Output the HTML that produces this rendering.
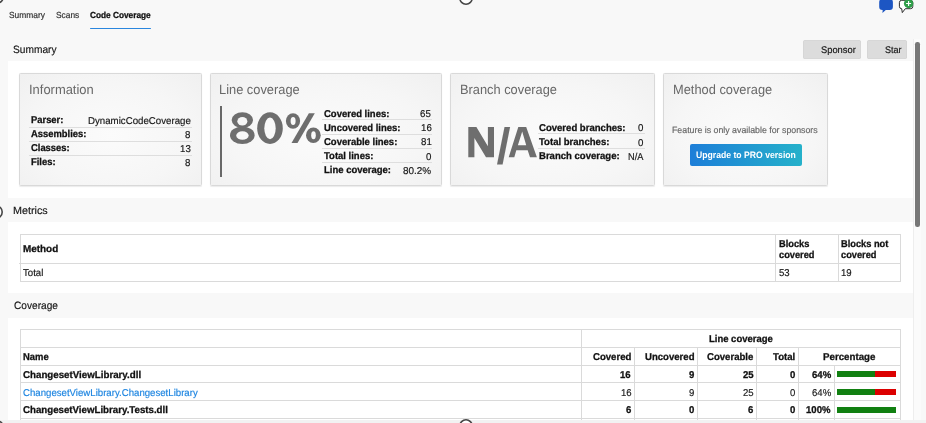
<!DOCTYPE html>
<html><head><meta charset="utf-8"><style>
html,body{margin:0;padding:0;}
body{width:926px;height:423px;overflow:hidden;position:relative;background:#f8f8f8;font-family:"Liberation Sans",sans-serif;text-rendering:geometricPrecision;}
body>div{position:absolute;}
.t{white-space:nowrap;line-height:1;transform-origin:0 0;}
</style></head><body>
<div class="t" style="left:8.60px;top:11.43px;font-size:8.8px;color:#2c2c2c;transform:scaleX(0.9542);-webkit-text-stroke:0.16px #2c2c2c;">Summary</div>
<div class="t" style="left:55.80px;top:11.43px;font-size:8.8px;color:#2c2c2c;transform:scaleX(0.9492);-webkit-text-stroke:0.16px #2c2c2c;">Scans</div>
<div class="t" style="left:89.71px;top:10.89px;font-size:8.8px;color:#111111;font-weight:bold;transform:scaleX(0.9401);-webkit-text-stroke:0.28px #111111;">Code Coverage</div>
<div style="left:89.50px;top:27.60px;width:61.30px;height:1.40px;background:#2a86de;border-radius:1px;"></div>
<div class="t" style="left:13.48px;top:45.23px;font-size:10.6px;color:#151515;transform:scaleX(0.9602);-webkit-text-stroke:0.16px #151515;">Summary</div>
<div style="left:803.30px;top:40.00px;width:57.70px;height:18.70px;background:#dcdcdc;border-radius:2.5px;box-shadow:inset 0 0 0 0.6px #d2d2d2;"></div>
<div class="t" style="left:821.15px;top:46.08px;font-size:9.7px;color:#151515;transform:scaleX(0.9630);-webkit-text-stroke:0.16px #151515;">Sponsor</div>
<div style="left:867.00px;top:40.00px;width:39.80px;height:18.70px;background:#dcdcdc;border-radius:2.5px;box-shadow:inset 0 0 0 0.6px #d2d2d2;"></div>
<div class="t" style="left:884.77px;top:46.08px;font-size:9.7px;color:#151515;transform:scaleX(0.9335);-webkit-text-stroke:0.16px #151515;">Star</div>
<div style="left:8.00px;top:61.00px;width:905.00px;height:137.10px;background:#fff;"></div>
<div style="left:19.40px;top:73.00px;width:182.40px;height:113.30px;box-sizing:border-box;border-radius:1.5px;border:1px solid #d9d9d9;background:radial-gradient(ellipse at 50% 55%,#fbfbfb 0%,#f6f6f6 60%,#f0f0f0 100%);box-shadow:0 0.5px 1px rgba(0,0,0,0.08);"></div>
<div style="left:210.00px;top:73.00px;width:231.60px;height:113.30px;box-sizing:border-box;border-radius:1.5px;border:1px solid #d9d9d9;background:radial-gradient(ellipse at 50% 55%,#fbfbfb 0%,#f6f6f6 60%,#f0f0f0 100%);box-shadow:0 0.5px 1px rgba(0,0,0,0.08);"></div>
<div style="left:450.00px;top:73.00px;width:205.20px;height:113.30px;box-sizing:border-box;border-radius:1.5px;border:1px solid #d9d9d9;background:radial-gradient(ellipse at 50% 55%,#fbfbfb 0%,#f6f6f6 60%,#f0f0f0 100%);box-shadow:0 0.5px 1px rgba(0,0,0,0.08);"></div>
<div style="left:663.30px;top:73.00px;width:164.40px;height:113.20px;box-sizing:border-box;border-radius:1.5px;border:1px solid #d9d9d9;background:radial-gradient(ellipse at 50% 55%,#fbfbfb 0%,#f6f6f6 60%,#f0f0f0 100%);box-shadow:0 0.5px 1px rgba(0,0,0,0.08);"></div>
<div class="t" style="left:29.16px;top:83.42px;font-size:13.3px;color:#686868;transform:scaleX(0.9731);">Information</div>
<div class="t" style="left:30.63px;top:116.36px;font-size:9.9px;color:#111111;font-weight:bold;transform:scaleX(0.9513);-webkit-text-stroke:0.28px #111111;">Parser:</div>
<div class="t" style="left:88.25px;top:116.87px;font-size:9.9px;color:#151515;transform:scaleX(0.9806);-webkit-text-stroke:0.16px #151515;">DynamicCodeCoverage</div>
<div style="left:29.00px;top:126.80px;width:163.00px;height:1.00px;background:#dedede;"></div>
<div class="t" style="left:30.63px;top:130.36px;font-size:9.9px;color:#111111;font-weight:bold;transform:scaleX(0.9513);-webkit-text-stroke:0.28px #111111;">Assemblies:</div>
<div class="t" style="left:185.49px;top:130.87px;font-size:9.9px;color:#151515;transform:scaleX(0.9806);-webkit-text-stroke:0.16px #151515;">8</div>
<div style="left:29.00px;top:140.80px;width:163.00px;height:1.00px;background:#dedede;"></div>
<div class="t" style="left:30.63px;top:144.36px;font-size:9.9px;color:#111111;font-weight:bold;transform:scaleX(0.9513);-webkit-text-stroke:0.28px #111111;">Classes:</div>
<div class="t" style="left:180.18px;top:144.87px;font-size:9.9px;color:#151515;transform:scaleX(0.9806);-webkit-text-stroke:0.16px #151515;">13</div>
<div style="left:29.00px;top:154.80px;width:163.00px;height:1.00px;background:#dedede;"></div>
<div class="t" style="left:30.63px;top:158.36px;font-size:9.9px;color:#111111;font-weight:bold;transform:scaleX(0.9513);-webkit-text-stroke:0.28px #111111;">Files:</div>
<div class="t" style="left:185.49px;top:158.87px;font-size:9.9px;color:#151515;transform:scaleX(0.9806);-webkit-text-stroke:0.16px #151515;">8</div>
<div class="t" style="left:219.40px;top:83.42px;font-size:13.3px;color:#686868;transform:scaleX(0.9658);">Line coverage</div>
<div style="left:220.00px;top:106.00px;width:2.00px;height:70.60px;background:#686868;"></div>
<svg style="position:absolute;left:0;top:0" width="926" height="423"><defs><mask id="m80" maskUnits="userSpaceOnUse" x="0" y="0" width="926" height="423"><rect x="0" y="0" width="926" height="423" fill="#fff"/><g fill="#000"><ellipse cx="242.35" cy="121.2" rx="5.0" ry="4.3"/><ellipse cx="242.45" cy="135.5" rx="6.2" ry="4.3"/><ellipse cx="270" cy="128.35" rx="5.7" ry="10.9"/><ellipse cx="293.1" cy="121" rx="2.5" ry="4.1"/><ellipse cx="313.5" cy="135.2" rx="2.3" ry="4.0"/></g></mask></defs><g fill="#6e6e6e" mask="url(#m80)"><ellipse cx="242.35" cy="120.1" rx="10.7" ry="7.9"/><ellipse cx="242.3" cy="135.3" rx="12.3" ry="8.8"/><ellipse cx="270" cy="128.15" rx="12.8" ry="15.85"/><ellipse cx="293" cy="121" rx="7.1" ry="7.8"/><ellipse cx="313.35" cy="135.2" rx="7.35" ry="7.8"/><path d="M308.9 113.2 L314.8 113.2 L297.5 143.1 L291.5 143.1 Z"/></g></svg>
<div class="t" style="left:323.86px;top:109.56px;font-size:9.9px;color:#111111;font-weight:bold;transform:scaleX(0.9608);-webkit-text-stroke:0.28px #111111;">Covered lines:</div>
<div class="t" style="left:420.48px;top:110.07px;font-size:9.9px;color:#151515;transform:scaleX(0.9806);-webkit-text-stroke:0.16px #151515;">65</div>
<div style="left:322.40px;top:119.30px;width:109.80px;height:1.00px;background:#dedede;"></div>
<div class="t" style="left:323.86px;top:123.71px;font-size:9.9px;color:#111111;font-weight:bold;transform:scaleX(0.9608);-webkit-text-stroke:0.28px #111111;">Uncovered lines:</div>
<div class="t" style="left:420.51px;top:124.22px;font-size:9.9px;color:#151515;transform:scaleX(0.9806);-webkit-text-stroke:0.16px #151515;">16</div>
<div style="left:322.40px;top:133.50px;width:109.80px;height:1.00px;background:#dedede;"></div>
<div class="t" style="left:323.86px;top:137.86px;font-size:9.9px;color:#111111;font-weight:bold;transform:scaleX(0.9608);-webkit-text-stroke:0.28px #111111;">Coverable lines:</div>
<div class="t" style="left:420.63px;top:138.37px;font-size:9.9px;color:#151515;transform:scaleX(0.9806);-webkit-text-stroke:0.16px #151515;">81</div>
<div style="left:322.40px;top:147.70px;width:109.80px;height:1.00px;background:#dedede;"></div>
<div class="t" style="left:323.86px;top:152.01px;font-size:9.9px;color:#111111;font-weight:bold;transform:scaleX(0.9608);-webkit-text-stroke:0.28px #111111;">Total lines:</div>
<div class="t" style="left:425.70px;top:152.52px;font-size:9.9px;color:#151515;transform:scaleX(0.9806);-webkit-text-stroke:0.16px #151515;">0</div>
<div style="left:322.40px;top:161.90px;width:109.80px;height:1.00px;background:#dedede;"></div>
<div class="t" style="left:323.86px;top:166.16px;font-size:9.9px;color:#111111;font-weight:bold;transform:scaleX(0.9608);-webkit-text-stroke:0.28px #111111;">Line coverage:</div>
<div class="t" style="left:402.71px;top:166.67px;font-size:9.9px;color:#151515;transform:scaleX(1.0052);-webkit-text-stroke:0.16px #151515;">80.2%</div>
<div class="t" style="left:459.80px;top:83.42px;font-size:13.3px;color:#686868;transform:scaleX(0.9646);">Branch coverage</div>
<svg style="position:absolute;left:0;top:0" width="926" height="423"><g fill="#6e6e6e"><path d="M468.3 157.2 L468.3 126.9 L476.4 126.9 L487.9 146.3 L487.9 126.9 L494 126.9 L494 157.2 L486 157.2 L474.4 137.9 L474.4 157.2 Z"/><path d="M504.5 126.9 L510.1 126.9 L502.6 164.5 L497 164.5 Z"/><path fill-rule="evenodd" d="M508.7 157.2 L518.3 126.9 L526.2 126.9 L536.9 157.2 L530 157.2 L527.7 150.2 L516.3 150.2 L514.3 157.2 Z M517.9 145.2 L522.2 131.6 L526.2 145.2 Z"/></g></svg>
<div class="t" style="left:539.05px;top:123.96px;font-size:9.9px;color:#111111;font-weight:bold;transform:scaleX(0.9672);-webkit-text-stroke:0.28px #111111;">Covered branches:</div>
<div class="t" style="left:638.20px;top:124.47px;font-size:9.9px;color:#151515;transform:scaleX(0.9806);-webkit-text-stroke:0.16px #151515;">0</div>
<div style="left:538.00px;top:133.10px;width:106.80px;height:1.00px;background:#dedede;"></div>
<div class="t" style="left:539.05px;top:138.16px;font-size:9.9px;color:#111111;font-weight:bold;transform:scaleX(0.9672);-webkit-text-stroke:0.28px #111111;">Total branches:</div>
<div class="t" style="left:638.20px;top:138.67px;font-size:9.9px;color:#151515;transform:scaleX(0.9806);-webkit-text-stroke:0.16px #151515;">0</div>
<div style="left:538.00px;top:147.70px;width:106.80px;height:1.00px;background:#dedede;"></div>
<div class="t" style="left:539.05px;top:152.36px;font-size:9.9px;color:#111111;font-weight:bold;transform:scaleX(0.9672);-webkit-text-stroke:0.28px #111111;">Branch coverage:</div>
<div class="t" style="left:628.02px;top:152.87px;font-size:9.9px;color:#151515;transform:scaleX(0.9311);-webkit-text-stroke:0.16px #151515;">N/A</div>
<div class="t" style="left:672.80px;top:83.42px;font-size:13.3px;color:#686868;transform:scaleX(0.9653);">Method coverage</div>
<div class="t" style="left:672.46px;top:126.48px;font-size:9.0px;color:#666;transform:scaleX(0.9772);-webkit-text-stroke:0.16px #666;">Feature is only available for sponsors</div>
<div style="left:689.80px;top:144.00px;width:111.80px;height:21.70px;background:linear-gradient(90deg,#1d7ed8,#25b1ca);border-radius:2px;"></div>
<div class="t" style="left:695.54px;top:151.30px;font-size:9.3px;color:#fff;font-weight:bold;transform:scaleX(0.9295);">Upgrade to PRO version</div>
<div class="t" style="left:13.13px;top:206.13px;font-size:10.6px;color:#151515;transform:scaleX(1.0154);-webkit-text-stroke:0.16px #151515;">Metrics</div>
<div style="left:8.00px;top:222.30px;width:905.00px;height:71.00px;background:#fff;"></div>
<div style="left:19.80px;top:234.00px;width:880.90px;height:47.60px;box-sizing:border-box;border:1px solid #dadada;"></div>
<div style="left:19.40px;top:263.00px;width:881.30px;height:1.00px;background:#dadada;"></div>
<div style="left:775.20px;top:234.00px;width:1.00px;height:47.60px;background:#dadada;"></div>
<div style="left:838.20px;top:234.00px;width:1.00px;height:47.60px;background:#dadada;"></div>
<div class="t" style="left:22.70px;top:244.76px;font-size:9.9px;color:#111111;font-weight:bold;transform:scaleX(1.0025);-webkit-text-stroke:0.28px #111111;">Method</div>
<div class="t" style="left:841.24px;top:239.86px;font-size:9.9px;color:#111111;font-weight:bold;transform:scaleX(0.9379);-webkit-text-stroke:0.28px #111111;">Blocks not</div>
<div class="t" style="left:778.74px;top:239.86px;font-size:9.9px;color:#111111;font-weight:bold;transform:scaleX(0.9379);-webkit-text-stroke:0.28px #111111;">Blocks</div>
<div class="t" style="left:778.74px;top:250.76px;font-size:9.9px;color:#111111;font-weight:bold;transform:scaleX(0.9379);-webkit-text-stroke:0.28px #111111;">covered</div>
<div class="t" style="left:841.24px;top:250.76px;font-size:9.9px;color:#111111;font-weight:bold;transform:scaleX(0.9379);-webkit-text-stroke:0.28px #111111;">covered</div>
<div class="t" style="left:22.94px;top:268.87px;font-size:9.9px;color:#151515;transform:scaleX(0.9718);-webkit-text-stroke:0.16px #151515;">Total</div>
<div class="t" style="left:778.74px;top:268.87px;font-size:9.9px;color:#151515;transform:scaleX(0.9718);-webkit-text-stroke:0.16px #151515;">53</div>
<div class="t" style="left:841.24px;top:268.87px;font-size:9.9px;color:#151515;transform:scaleX(0.9718);-webkit-text-stroke:0.16px #151515;">19</div>
<div class="t" style="left:13.59px;top:301.33px;font-size:10.6px;color:#151515;transform:scaleX(0.9562);-webkit-text-stroke:0.16px #151515;">Coverage</div>
<div style="left:8.00px;top:317.50px;width:905.00px;height:102.10px;background:#fff;"></div>
<div style="left:19.80px;top:329.00px;width:1.00px;height:91.00px;background:#dadada;"></div>
<div style="left:900.00px;top:329.00px;width:1.00px;height:91.00px;background:#dadada;"></div>
<div style="left:19.80px;top:329.00px;width:880.90px;height:1.00px;background:#dadada;"></div>
<div style="left:19.80px;top:346.80px;width:880.90px;height:1.00px;background:#dadada;"></div>
<div style="left:19.80px;top:364.60px;width:880.90px;height:1.00px;background:#dadada;"></div>
<div style="left:19.80px;top:382.10px;width:880.90px;height:1.00px;background:#dadada;"></div>
<div style="left:19.80px;top:399.90px;width:880.90px;height:1.00px;background:#dadada;"></div>
<div style="left:19.80px;top:417.60px;width:880.90px;height:1.00px;background:#dadada;"></div>
<div style="left:581.20px;top:329.00px;width:1.00px;height:91.00px;background:#dadada;"></div>
<div style="left:633.90px;top:347.30px;width:1.00px;height:91.00px;background:#dadada;"></div>
<div style="left:697.10px;top:347.30px;width:1.00px;height:91.00px;background:#dadada;"></div>
<div style="left:756.20px;top:347.30px;width:1.00px;height:91.00px;background:#dadada;"></div>
<div style="left:798.10px;top:347.30px;width:1.00px;height:91.00px;background:#dadada;"></div>
<div style="left:833.60px;top:365.10px;width:1.00px;height:60.00px;background:#dadada;"></div>
<div class="t" style="left:644.92px;top:353.06px;font-size:9.9px;color:#111111;font-weight:bold;transform:scaleX(0.9698);-webkit-text-stroke:0.28px #111111;">Uncovered</div>
<div class="t" style="left:708.73px;top:335.36px;font-size:9.9px;color:#111111;font-weight:bold;transform:scaleX(0.9599);-webkit-text-stroke:0.28px #111111;">Line coverage</div>
<div class="t" style="left:22.83px;top:353.16px;font-size:9.9px;color:#111111;font-weight:bold;transform:scaleX(0.9528);-webkit-text-stroke:0.28px #111111;">Name</div>
<div class="t" style="left:593.08px;top:353.16px;font-size:9.9px;color:#111111;font-weight:bold;transform:scaleX(0.9698);-webkit-text-stroke:0.28px #111111;">Covered</div>
<div class="t" style="left:707.43px;top:353.16px;font-size:9.9px;color:#111111;font-weight:bold;transform:scaleX(0.9698);-webkit-text-stroke:0.28px #111111;">Coverable</div>
<div class="t" style="left:773.24px;top:353.16px;font-size:9.9px;color:#111111;font-weight:bold;transform:scaleX(0.9698);-webkit-text-stroke:0.28px #111111;">Total</div>
<div class="t" style="left:823.31px;top:353.36px;font-size:9.9px;color:#111111;font-weight:bold;transform:scaleX(0.9852);-webkit-text-stroke:0.28px #111111;">Percentage</div>
<div class="t" style="left:22.95px;top:370.86px;font-size:9.9px;color:#111111;font-weight:bold;transform:scaleX(0.9859);-webkit-text-stroke:0.28px #111111;">ChangesetViewLibrary.dll</div>
<div class="t" style="left:620.39px;top:370.86px;font-size:9.9px;color:#111111;font-weight:bold;transform:scaleX(0.9698);-webkit-text-stroke:0.28px #111111;">16</div>
<div class="t" style="left:688.79px;top:370.86px;font-size:9.9px;color:#111111;font-weight:bold;transform:scaleX(0.9698);-webkit-text-stroke:0.28px #111111;">9</div>
<div class="t" style="left:742.74px;top:370.86px;font-size:9.9px;color:#111111;font-weight:bold;transform:scaleX(0.9698);-webkit-text-stroke:0.28px #111111;">25</div>
<div class="t" style="left:789.72px;top:370.86px;font-size:9.9px;color:#111111;font-weight:bold;transform:scaleX(0.9698);-webkit-text-stroke:0.28px #111111;">0</div>
<div class="t" style="left:811.55px;top:370.86px;font-size:9.9px;color:#111111;font-weight:bold;transform:scaleX(0.9698);-webkit-text-stroke:0.28px #111111;">64%</div>
<div style="left:836.80px;top:370.90px;width:37.89px;height:5.90px;background:#118011;"></div>
<div style="left:874.69px;top:370.90px;width:21.31px;height:5.90px;background:#dc0000;"></div>
<div class="t" style="left:22.95px;top:389.17px;font-size:9.9px;color:#1c84e0;transform:scaleX(0.9755);-webkit-text-stroke:0.16px #1c84e0;">ChangesetViewLibrary.ChangesetLibrary</div>
<div class="t" style="left:620.83px;top:389.17px;font-size:9.9px;color:#1a1a1a;transform:scaleX(0.9698);-webkit-text-stroke:0.16px #1a1a1a;">16</div>
<div class="t" style="left:688.92px;top:389.17px;font-size:9.9px;color:#1a1a1a;transform:scaleX(0.9698);-webkit-text-stroke:0.16px #1a1a1a;">9</div>
<div class="t" style="left:743.19px;top:389.17px;font-size:9.9px;color:#1a1a1a;transform:scaleX(0.9698);-webkit-text-stroke:0.16px #1a1a1a;">25</div>
<div class="t" style="left:789.76px;top:389.17px;font-size:9.9px;color:#1a1a1a;transform:scaleX(0.9698);-webkit-text-stroke:0.16px #1a1a1a;">0</div>
<div class="t" style="left:811.68px;top:389.17px;font-size:9.9px;color:#1a1a1a;transform:scaleX(0.9698);-webkit-text-stroke:0.16px #1a1a1a;">64%</div>
<div style="left:836.80px;top:389.10px;width:37.89px;height:5.90px;background:#118011;"></div>
<div style="left:874.69px;top:389.10px;width:21.31px;height:5.90px;background:#dc0000;"></div>
<div class="t" style="left:22.95px;top:406.36px;font-size:9.9px;color:#111111;font-weight:bold;transform:scaleX(0.9818);-webkit-text-stroke:0.28px #111111;">ChangesetViewLibrary.Tests.dll</div>
<div class="t" style="left:625.91px;top:406.36px;font-size:9.9px;color:#111111;font-weight:bold;transform:scaleX(0.9698);-webkit-text-stroke:0.28px #111111;">6</div>
<div class="t" style="left:688.82px;top:406.36px;font-size:9.9px;color:#111111;font-weight:bold;transform:scaleX(0.9698);-webkit-text-stroke:0.28px #111111;">0</div>
<div class="t" style="left:748.31px;top:406.36px;font-size:9.9px;color:#111111;font-weight:bold;transform:scaleX(0.9698);-webkit-text-stroke:0.28px #111111;">6</div>
<div class="t" style="left:789.72px;top:406.36px;font-size:9.9px;color:#111111;font-weight:bold;transform:scaleX(0.9698);-webkit-text-stroke:0.28px #111111;">0</div>
<div class="t" style="left:806.09px;top:406.36px;font-size:9.9px;color:#111111;font-weight:bold;transform:scaleX(0.9698);-webkit-text-stroke:0.28px #111111;">100%</div>
<div style="left:836.80px;top:406.80px;width:59.20px;height:5.90px;background:#118011;"></div>
<div style="left:913.30px;top:39.00px;width:7.70px;height:384.00px;background:#fbfbfb;box-shadow:inset 1px 0 0 #eeeeee;"></div>
<div style="left:915.20px;top:42.00px;width:4.50px;height:184.60px;background:#777;border-radius:2.25px;"></div>
<div style="left:0.00px;top:419.60px;width:926.00px;height:4.00px;background:#f2f2f2;"></div>
<svg style="position:absolute;left:870px;top:-5px" width="50" height="25" viewBox="0 0 50 25">
<path d="M12.4 4 h7.3 a3.2 3.2 0 0 1 3.2 3.2 v4.6 a3.2 3.2 0 0 1 -3.2 3.2 h-3.9 l-3.4 3.1 l0.3 -3.1 h-0.3 a3.2 3.2 0 0 1 -3.2 -3.2 v-4.6 a3.2 3.2 0 0 1 3.2 -3.2z" fill="#1d56c3"/>
<path d="M31.7 5.3 h8.8 a2.3 2.3 0 0 1 2.3 2.3 v3.8 a2.3 2.3 0 0 1 -2.3 2.3 h-5.2 l-3 3.9 l-0.6 -3.9 h0 a2.3 2.3 0 0 1 -2.3 -2.3 v-3.8 a2.3 2.3 0 0 1 2.3 -2.3z" fill="#fff" stroke="#161616" stroke-width="0.9"/>
<circle cx="38.6" cy="8.5" r="4.7" fill="#2f9d49"/>
<path d="M38.6 6 v5 M36.1 8.5 h5" stroke="#fff" stroke-width="1.15"/>
</svg>
<svg style="position:absolute;left:-13px;top:-13px" width="20" height="20"><circle cx="10" cy="10" r="6.2" fill="#fff" stroke="#464646" stroke-width="1.6"/></svg>
<svg style="position:absolute;left:456px;top:-12px" width="20" height="20"><circle cx="10" cy="10" r="6.2" fill="#fff" stroke="#464646" stroke-width="1.6"/></svg>
<svg style="position:absolute;left:-14px;top:201.5px" width="20" height="20"><circle cx="10" cy="10" r="6.2" fill="#fff" stroke="#464646" stroke-width="1.6"/></svg>
<svg style="position:absolute;left:456px;top:416px" width="20" height="20"><circle cx="10" cy="10" r="6.2" fill="#fff" stroke="#464646" stroke-width="1.6"/></svg>
<svg style="position:absolute;left:-13px;top:417px" width="20" height="20"><circle cx="10" cy="10" r="6.2" fill="#fff" stroke="#464646" stroke-width="1.6"/></svg>
</body></html>
